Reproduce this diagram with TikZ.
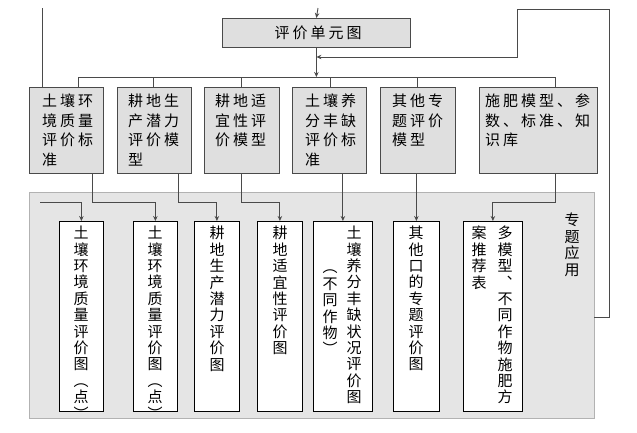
\documentclass[tikz,border=0pt]{standalone}
\usepackage{fontspec}
\usetikzlibrary{arrows.meta}
\newfontfamily\cjk{Noto Sans CJK SC}
\newfontfamily\cjkls{Noto Sans CJK SC}[LetterSpace=20]
\definecolor{linec}{HTML}{4A4A4A}
\tikzset{
  topbox/.style={draw=linec, line width=0.8pt, fill=gray!25, anchor=north west, inner sep=0pt},
  mapbox/.style={draw=black, line width=0.8pt, fill=white, anchor=north west, inner sep=0pt, minimum height=190pt},
  region/.style={draw=gray!60, line width=0.8pt, fill=gray!20, anchor=north west, inner sep=0pt},
  htext/.style={anchor=north west, align=left, inner sep=0pt, font=\cjkls\fontsize{15}{19.5}\selectfont},
  vtext/.style={anchor=north, align=center, inner sep=0pt, font=\cjk\fontsize{15}{16.4}\selectfont},
  conn/.style={draw=linec, line width=0.9pt},
  arr/.style={conn, -{Stealth[length=5pt,width=4.5pt]}}
}
\begin{document}
\begin{tikzpicture}[x=1pt,y=-1pt]
\useasboundingbox (0,0) rectangle (637,432);
% region
\node[region, minimum width=565pt, minimum height=226pt] (reg) at (29,192) {};
% top box
\node[topbox, minimum width=188pt, minimum height=29pt, anchor=north west] (top) at (222,18) {};
\node[anchor=center, inner sep=0pt, font=\cjkls\fontsize{15}{19.5}\selectfont] (toptxt) at (318,32.5) {评价单元图};
% row of six boxes
\node[topbox, minimum width=74pt, minimum height=86pt] (b1) at (29,87) {};
\node[topbox, minimum width=74pt, minimum height=86pt] (b2) at (117,87) {};
\node[topbox, minimum width=75pt, minimum height=86pt] (b3) at (204,87) {};
\node[topbox, minimum width=74pt, minimum height=86pt] (b4) at (292,87) {};
\node[topbox, minimum width=75pt, minimum height=86pt] (b5) at (380,87) {};
\node[topbox, minimum width=118pt, minimum height=86pt] (b6) at (479,87) {};
\node[htext] (t1) at (42,94) {土壤环\\境质量\\评价标\\准};
\node[htext] (t2) at (128,94) {耕地生\\产潜力\\评价模\\型};
\node[htext] (t3) at (215,94) {耕地适\\宜性评\\价模型};
\node[htext] (t4) at (305,94) {土壤养\\分丰缺\\评价标\\准};
\node[htext] (t5) at (392,94) {其他专\\题评价\\模型};
\node[htext] (t6) at (485,94) {施肥模型、参\\数、标准、知\\识库};
% map boxes
\node[mapbox, minimum width=44pt] (s1) at (59,221) {};
\node[mapbox, minimum width=44pt] (s2) at (133,221) {};
\node[mapbox, minimum width=45pt] (s3) at (194,221) {};
\node[mapbox, minimum width=45pt] (s4) at (257,221) {};
\node[mapbox, minimum width=59pt] (s5) at (313,221) {};
\node[mapbox, minimum width=46pt] (s6) at (393,221) {};
\node[mapbox, minimum width=59pt] (s7) at (463,221) {};
\node[vtext] (v1) at (81,226) {土\\壤\\环\\境\\质\\量\\评\\价\\图\\︵\\点\\︶};
\node[vtext] (v2) at (155,226) {土\\壤\\环\\境\\质\\量\\评\\价\\图\\︵\\点\\︶};
\node[vtext] (v3) at (217,226) {耕\\地\\生\\产\\潜\\力\\评\\价\\图};
\node[vtext] (v4) at (280,226) {耕\\地\\适\\宜\\性\\评\\价\\图};
\node[vtext] (v5a) at (354,226) {土\\壤\\养\\分\\丰\\缺\\状\\况\\评\\价\\图};
\node[vtext] (v5b) at (330,270) {︵\\不\\同\\作\\物\\︶};
\node[vtext] (v6) at (416,226) {其\\他\\口\\的\\专\\题\\评\\价\\图};
\node[vtext] (v7a) at (505,226) {多\\模\\型\\︑\\不\\同\\作\\物\\施\\肥\\方};
\node[vtext] (v7b) at (479,226) {案\\推\\荐\\表};
\node[vtext] (lab) at (572,213) {专\\题\\应\\用};
% coordinates
\coordinate (L0) at (42,8);
\coordinate (T0) at (318,8);
\coordinate (busL) at (78,77);
\coordinate (busR) at (555,77);
\coordinate (k1) at (78,77);
\coordinate (k2) at (153,77);
\coordinate (k3) at (241,77);
\coordinate (k4) at (330,77);
\coordinate (k5) at (417,77);
\coordinate (k6) at (555,77);
\coordinate (fb0) at (594,317);
\coordinate (fbA) at (609,9);
\coordinate (fbB) at (517,57);
\coordinate (s0) at (40,202);
\coordinate (e1) at (92,202);
\coordinate (e2) at (178,202);
\coordinate (e3) at (241,202);
\coordinate (e6) at (555,202);
% top connectors
\draw[conn] (L0) -- (L0 |- b1.north);
\draw[arr] (T0) -- (top.north);
\draw[conn] (busL) -- (busR);
\draw[arr] (top.south) -- (top.south |- busL);
\foreach \k/\b in {k1/b1,k2/b2,k3/b3,k4/b4,k5/b5,k6/b6} \draw[conn] (\k) -- (\k |- \b.north);
\draw[arr] (fb0) -| (fbA) -| (fbB) -- (fbB -| top.south);
% lower connectors
\draw[arr] (s0) -| (s1.north);
\draw[arr] (e1 |- b1.south) -- (e1) -| (s2.north);
\draw[arr] (e2 |- b2.south) -- (e2) -| (s3.north);
\draw[arr] (e3 |- b3.south) -- (e3) -| (s4.north);
\draw[arr] (s5.north |- b4.south) -- (s5.north);
\draw[arr] (s6.north |- b5.south) -- (s6.north);
\draw[arr] (e6 |- b6.south) -- (e6) -| (s7.north);
\end{tikzpicture}
\end{document}
